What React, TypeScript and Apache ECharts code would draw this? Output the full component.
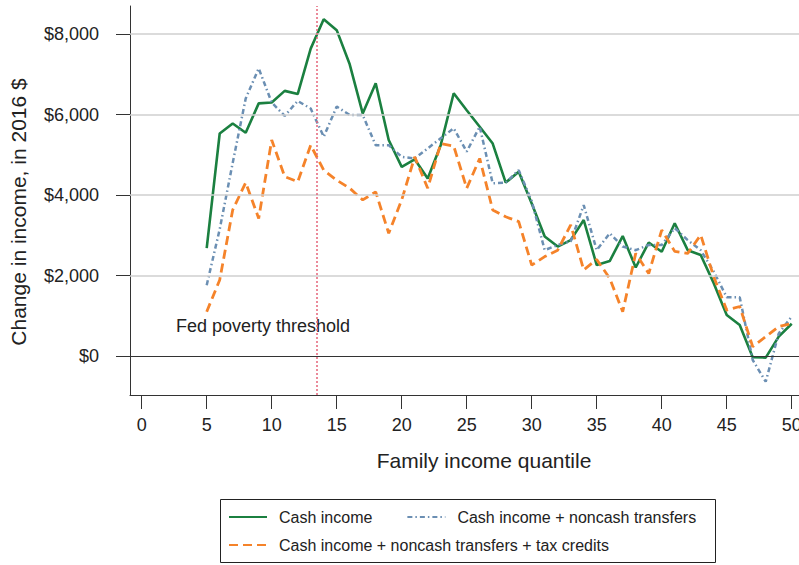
import React, { useEffect, useRef } from "react";
import * as echarts from "echarts";

// Family income quantiles (x positions of every series point)
const quantiles = [
  5, 6, 7, 8, 9, 10, 11, 12, 13, 14, 15, 16, 17, 18, 19, 20, 21, 22, 23, 24, 25, 26, 27, 28, 29,
  30, 31, 32, 33, 34, 35, 36, 37, 38, 39, 40, 41, 42, 43, 44, 45, 46, 47, 48, 49, 50,
];

// Change in income, 2016 dollars
const cashIncome = [
  2680, 5530, 5780, 5550, 6280, 6300, 6590, 6510, 7640, 8370, 8100, 7250, 6030, 6780, 5370, 4700,
  4890, 4410, 5240, 6530, 6110, 5700, 5280, 4310, 4580, 3790, 2970, 2720, 2880, 3380, 2260, 2360,
  2980, 2200, 2820, 2590, 3300, 2630, 2510, 1810, 1020, 770, -30, -40, 480, 800,
];

const cashNoncash = [
  1760, 3150, 4800, 6400, 7150, 6300, 5970, 6340, 6150, 5450, 6200, 5990, 5990, 5240, 5240, 4950,
  4910, 5160, 5410, 5660, 5080, 5700, 4290, 4310, 4620, 3850, 2630, 2760, 2850, 3750, 2630, 3050,
  2720, 2630, 2760, 2760, 3180, 2880, 2630, 2100, 1460, 1460, -100, -640, 560, 980,
];

const cashNoncashTax = [
  1100, 1890, 3630, 4310, 3420, 5370, 4460, 4330, 5240, 4620, 4370, 4170, 3880, 4080, 3050, 3880,
  4950, 4170, 5280, 5220, 4170, 4910, 3630, 3460, 3340, 2260, 2470, 2630, 3260, 2140, 2400, 1930,
  1100, 2550, 2050, 3130, 2600, 2550, 3010, 1970, 1140, 1230, 230, 480, 730, 810,
];

const xTicks = [0, 5, 10, 15, 20, 25, 30, 35, 40, 45, 50];
const yTicks = [0, 2000, 4000, 6000, 8000];
const gridValues = [2000, 4000, 6000, 8000];
const povertyQuantile = 13.5;

const seriesNames = [
  "Cash income",
  "Cash income + noncash transfers",
  "Cash income + noncash transfers + tax credits",
];

const FONT = "'Liberation Sans', Arial, Helvetica, sans-serif";
const TEXT = "#222222";

const pairs = (ys: number[]) => quantiles.map((q, i) => [q, ys[i]]);

export default function App() {
  const ref = useRef<HTMLDivElement>(null);

  useEffect(() => {
    if (!ref.current) return;
    const chart = echarts.init(ref.current, null, { renderer: "svg" });

    chart.setOption({
      animation: false,
      backgroundColor: "#ffffff",
      textStyle: { fontFamily: FONT, color: TEXT },
      grid: {
        left: 130,
        top: 6,
        right: 0,
        bottom: 170,
        containLabel: false,
        outerBoundsMode: "none",
      },
      xAxis: {
        type: "value",
        min: -0.9,
        max: 50.56,
        axisLine: { show: true, onZero: false, lineStyle: { color: "#333", width: 1 } },
        axisTick: { show: true, length: 14, customValues: xTicks, lineStyle: { color: "#333" } },
        axisLabel: {
          customValues: xTicks,
          margin: 21,
          fontSize: 18,
          color: TEXT,
          fontFamily: FONT,
          hideOverlap: false,
        },
        splitLine: { show: false },
      },
      yAxis: {
        type: "value",
        min: -970,
        max: 8700,
        axisLine: { show: true, onZero: false, lineStyle: { color: "#333", width: 1 } },
        axisTick: { show: true, length: 14, customValues: yTicks, lineStyle: { color: "#333" } },
        axisLabel: {
          customValues: yTicks,
          margin: 31,
          fontSize: 18,
          color: TEXT,
          fontFamily: FONT,
          formatter: (v: number) => "$" + v.toLocaleString("en-US"),
        },
        splitLine: { show: false },
      },
      legend: {
        left: 228,
        top: 508,
        width: 475,
        padding: 0,
        itemGap: 10,
        itemWidth: 38,
        itemHeight: 14,
        orient: "horizontal",
        itemStyle: { opacity: 0 },
        textStyle: { fontSize: 16, lineHeight: 18, color: TEXT, fontFamily: FONT, padding: [0, 0, 0, 7] },
        data: [
          { name: seriesNames[0], textStyle: { padding: [0, 24, 0, 7] } },
          { name: seriesNames[1] },
          { name: seriesNames[2] },
        ],
      },
      graphic: [
        {
          type: "rect",
          shape: { x: 220.5, y: 499.5, width: 495, height: 63 },
          style: { fill: "none", stroke: "#222", lineWidth: 1 },
          silent: true,
        },
        {
          type: "text",
          x: 176,
          y: 326,
          style: {
            text: "Fed poverty threshold",
            font: `18px ${FONT}`,
            fill: TEXT,
            verticalAlign: "middle",
            align: "left",
          },
        },
        {
          type: "text",
          x: 484,
          y: 460,
          style: {
            text: "Family income quantile",
            font: `21px ${FONT}`,
            fill: TEXT,
            verticalAlign: "middle",
            align: "center",
          },
        },
        {
          type: "text",
          x: 18,
          y: 212,
          rotation: Math.PI / 2,
          style: {
            text: "Change in income, in 2016 $",
            font: `21px ${FONT}`,
            fill: TEXT,
            verticalAlign: "middle",
            align: "center",
          },
        },
      ],
      series: [
        {
          // reference lines: horizontal grid, zero line, poverty threshold
          type: "line",
          data: [],
          z: 1,
          silent: true,
          markLine: {
            silent: true,
            symbol: ["none", "none"],
            label: { show: false },
            data: [
              ...gridValues.map((v) => ({
                yAxis: v,
                lineStyle: { color: "#cfcfcf", width: 1.5, type: "solid" },
              })),
              { yAxis: 0, lineStyle: { color: "#333", width: 1.2, type: "solid" } },
              { xAxis: povertyQuantile, lineStyle: { color: "#e5647a", width: 1.5, type: [2, 2] } },
            ],
          },
        },
        {
          name: seriesNames[0],
          type: "line",
          data: pairs(cashIncome),
          symbol: "none",
          z: 3,
          lineStyle: { color: "#1b8040", width: 2.6, type: "solid" },
          itemStyle: { color: "#1b8040", opacity: 0 },
        },
        {
          name: seriesNames[1],
          type: "line",
          data: pairs(cashNoncash),
          symbol: "none",
          z: 3,
          lineStyle: { color: "#6b8fb3", width: 2.5, type: [5, 3, 1.5, 3] },
          itemStyle: { color: "#6b8fb3", opacity: 0 },
        },
        {
          name: seriesNames[2],
          type: "line",
          data: pairs(cashNoncashTax),
          symbol: "none",
          z: 3,
          lineStyle: { color: "#f5832a", width: 2.8, type: [9, 5] },
          itemStyle: { color: "#f5832a", opacity: 0 },
        },
      ],
    });

    return () => chart.dispose();
  }, []);

  return (
    <div
      ref={ref}
      style={{ position: "fixed", left: 0, top: 0, width: 799, height: 565, background: "#fff" }}
    />
  );
}
